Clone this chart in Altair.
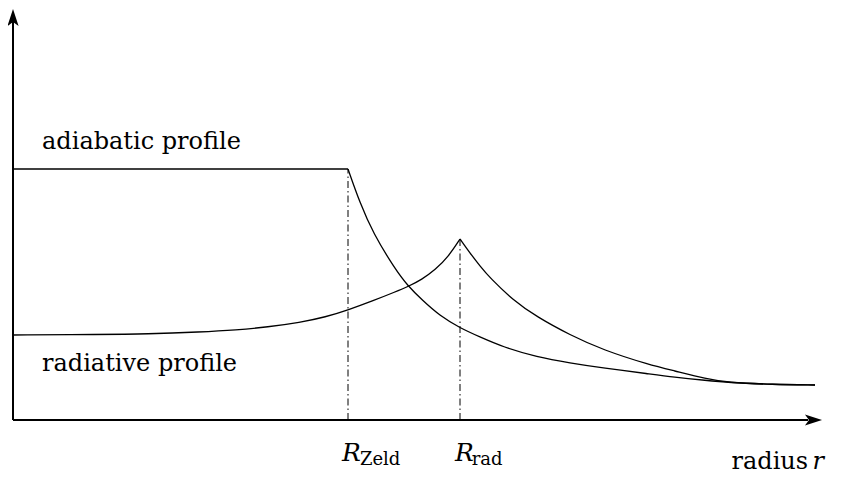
import altair as alt
import pandas as pd

# ---------------- data (schematic units) ----------------
# adiabatic profile: flat core, then decay beyond R_Zeld
adiab_flat_r = [0.0, 3.0]
adiab_flat_v = [5.02, 5.02]
adiab_tail_r = [3.0, 3.107, 3.224, 3.421, 3.537, 3.663, 3.824, 4.003, 4.182, 4.388,
                4.692, 4.988, 5.283, 5.704, 5.910, 6.215, 6.394, 6.806, 7.182]
adiab_tail_v = [5.02, 4.34, 3.74, 3.02, 2.68, 2.40, 2.08, 1.84, 1.66, 1.46,
                1.26, 1.14, 1.04, 0.92, 0.86, 0.79, 0.75, 0.71, 0.70]

# radiative profile: rising to a cusp at R_rad, then decaying
rad_in_r = [0.0, 0.78, 1.2, 1.68, 2.0, 2.28, 2.57, 2.8, 3.0, 3.23, 3.42, 3.54, 3.66,
            3.78, 3.90, 4.003]
rad_in_v = [1.70, 1.71, 1.72, 1.76, 1.80, 1.86, 1.95, 2.06, 2.20, 2.39, 2.56, 2.67,
            2.81, 3.00, 3.27, 3.62]
rad_out_r = [4.003, 4.092, 4.182, 4.272, 4.477, 4.692, 4.988, 5.283, 5.704, 5.910,
             6.215, 6.394, 6.806, 7.182]
rad_out_v = [3.62, 3.34, 3.08, 2.84, 2.40, 2.06, 1.70, 1.40, 1.10, 0.99,
             0.82, 0.75, 0.71, 0.70]

# characteristic radii (dash-dot markers)
marker_names = ["Zeld", "rad"]
marker_r = [3.0, 4.003]
marker_top = [5.02, 3.62]

# axes (with arrow tips)
axis_tip_r = [0.0, 7.245]
axis_tip_v = [8.22, 0.0]
axis_tip_angle = [0, 90]
axis_end_r = [0.0, 7.12]
axis_end_v = [8.0, 0.0]

# labels
label_text = ["adiabatic profile", "radiative profile"]
label_r = [0.26, 0.26]
label_v = [5.42, 0.98]

# ---------------- scales ----------------
XS = alt.Scale(domain=[-0.0448, 7.370], nice=False, zero=False)
YS = alt.Scale(domain=[-1.12, 8.24], nice=False, zero=False)

def X(f="r"):
    return alt.X(f"{f}:Q", scale=XS, axis=None)

def Y(f="v"):
    return alt.Y(f"{f}:Q", scale=YS, axis=None)

FONT = "DejaVu Serif"

# curves
rows = []
for seg, rs, vs in [("adiab_flat", adiab_flat_r, adiab_flat_v),
                    ("adiab_tail", adiab_tail_r, adiab_tail_v),
                    ("rad_in", rad_in_r, rad_in_v),
                    ("rad_out", rad_out_r, rad_out_v)]:
    for i, (r, v) in enumerate(zip(rs, vs)):
        rows.append({"seg": seg, "r": r, "v": v, "i": i})
curves_df = pd.DataFrame(rows)

curves = alt.Chart(curves_df).mark_line(
    color="black", strokeWidth=1.3, interpolate="basis"
).encode(x=X(), y=Y(), detail="seg:N", order="i:Q")

# dash-dot markers
markers_df = pd.DataFrame({"name": marker_names, "r": marker_r,
                           "v0": [0.0, 0.0], "v1": marker_top})
markers = alt.Chart(markers_df).mark_rule(
    color="black", strokeWidth=1, strokeDash=[7, 3, 1.5, 3]
).encode(x=X(), y=Y("v0"), y2="v1:Q")

# axis lines
axes_df = pd.DataFrame({"r": [0.0, 0.0], "v": [0.0, 0.0],
                        "r2": axis_end_r, "v2": axis_end_v})
axes = alt.Chart(axes_df).mark_rule(color="black", strokeWidth=2).encode(
    x=X(), y=Y(), x2="r2:Q", y2="v2:Q"
)

# arrow heads
ARROW = "M0,0 L-0.62,1.9 L0,1.45 L0.62,1.9 Z"
arrows_df = pd.DataFrame({"r": axis_tip_r, "v": axis_tip_v, "ang": axis_tip_angle})
arrows = alt.Chart(arrows_df).mark_point(
    shape=ARROW, filled=True, size=324, color="black", opacity=1, strokeWidth=0
).encode(x=X(), y=Y(), angle=alt.Angle("ang:Q", scale=None))

# labels
labels_df = pd.DataFrame({"t": label_text, "r": label_r, "v": label_v})
labels = alt.Chart(labels_df).mark_text(
    align="left", baseline="alphabetic", font=FONT, fontSize=24, color="black"
).encode(x=X(), y=Y(), text="t:N")

# R symbols on the radius axis
rsym_df = pd.DataFrame({"t": ["R", "R"], "r": [2.946, 3.957], "v": [-0.82, -0.82]})
rsym = alt.Chart(rsym_df).mark_text(
    align="left", baseline="alphabetic", font=FONT, fontSize=25,
    fontStyle="italic", color="black"
).encode(x=X(), y=Y(), text="t:N")

rsub_df = pd.DataFrame({"t": marker_names, "r": [3.107, 4.108], "v": [-0.90, -0.90]})
rsub = alt.Chart(rsub_df).mark_text(
    align="left", baseline="alphabetic", font=FONT, fontSize=18, color="black"
).encode(x=X(), y=Y(), text="t:N")

# axis title "radius r"
rad_word = alt.Chart(pd.DataFrame({"t": ["radius"], "r": [7.12], "v": [-0.98]})).mark_text(
    align="right", baseline="alphabetic", font=FONT, fontSize=24, color="black"
).encode(x=X(), y=Y(), text="t:N")
rad_var = alt.Chart(pd.DataFrame({"t": ["r"], "r": [7.16], "v": [-0.98]})).mark_text(
    align="left", baseline="alphabetic", font=FONT, fontSize=24, fontStyle="italic",
    color="black"
).encode(x=X(), y=Y(), text="t:N")

chart = alt.layer(
    markers, curves, axes, arrows, labels, rsym, rsub, rad_word, rad_var
).properties(
    width=828, height=468, padding=0,
    autosize=alt.AutoSizeParams(type="none"),
    background="white",
).configure_view(stroke=None)

chart.save("out.html", embed_options={"renderer": "svg", "actions": False})
